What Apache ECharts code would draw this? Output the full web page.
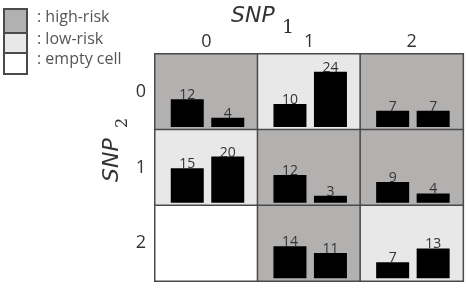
<!DOCTYPE html>
<html>
<head>
<meta charset="utf-8">
<script src="https://cdn.jsdelivr.net/npm/echarts@6/dist/echarts.min.js"></script>
<style>
  html, body { margin: 0; padding: 0; background: #fff; }
  #chart { width: 466px; height: 291px; }
</style>
</head>
<body>
<div id="chart"></div>
<script>
// genotype levels
const snp1Labels = ["0", "1", "2"];
const snp2Labels = ["0", "1", "2"];

// cells by row (SNP2) then column (SNP1); null = empty cell
const firstBar = [
  [12, 10, 7],
  [15, 12, 9],
  [null, 14, 7]
];
const secondBar = [
  [4, 24, 7],
  [20, 3, 4],
  [null, 11, 13]
];
const riskLevel = [
  ["high", "low", "high"],
  ["low", "high", "high"],
  ["empty", "high", "low"]
];

const riskColors = { high: "#b3b0b0", low: "#e8e8e8", empty: "#ffffff" };
const legendItems = [
  { key: "high", text: ": high-risk" },
  { key: "low", text: ": low-risk" },
  { key: "empty", text: ": empty cell" }
];

const chart = echarts.init(document.getElementById("chart"));

const left0 = 155, top0 = 54, cellW = 102.7, cellH = 75.7;
const font = "Open Sans";
const titleFont = "oblique 22px 'DejaVu Sans'";

const grids = [{ left: left0, top: top0, width: cellW * 3, height: cellH * 3 }];
const xAxes = [{
  type: "category", gridIndex: 0, position: "top", data: snp1Labels,
  axisLine: { show: false }, axisTick: { show: false }, splitLine: { show: false },
  axisLabel: { margin: 3, fontSize: 18, color: "#333", fontFamily: font }
}];
const yAxes = [{
  type: "category", gridIndex: 0, inverse: true, data: snp2Labels,
  axisLine: { show: false }, axisTick: { show: false }, splitLine: { show: false },
  axisLabel: { margin: 9, fontSize: 18, color: "#333", fontFamily: font, padding: [8, 0, 0, 0] }
}];

const cells = [];
for (let r = 0; r < 3; r++) {
  for (let c = 0; c < 3; c++) {
    cells.push({
      value: [c, r, 1],
      itemStyle: { color: riskColors[riskLevel[r][c]] }
    });
  }
}

const series = [{
  type: "heatmap",
  xAxisIndex: 0, yAxisIndex: 0, z: 1,
  data: cells,
  itemStyle: { borderColor: "#4a4a4a", borderWidth: 1.5 },
  emphasis: { disabled: true },
  silent: true
}];

for (let r = 0; r < 3; r++) {
  for (let c = 0; c < 3; c++) {
    if (firstBar[r][c] == null) continue;
    const gi = grids.length;
    grids.push({ left: left0 + c * cellW + 12, top: top0 + r * cellH, width: 81, height: cellH });
    xAxes.push({ type: "category", gridIndex: gi, data: ["a", "b"], show: false });
    yAxes.push({ type: "value", gridIndex: gi, min: -1.2, max: 31.7, show: false });
    series.push({
      type: "bar",
      xAxisIndex: gi, yAxisIndex: gi, z: 3,
      barWidth: 33,
      data: [firstBar[r][c], secondBar[r][c]],
      itemStyle: { color: "#000" },
      label: {
        show: true, position: "top", distance: -3,
        fontSize: 14, color: "#333", fontFamily: font
      },
      silent: true
    });
  }
}

const graphics = [];
legendItems.forEach((item, i) => {
  const ys = [8, 32, 52, 73];
  graphics.push({
    type: "rect", left: 3, top: ys[i],
    shape: { width: 23, height: ys[i + 1] - ys[i] },
    style: { fill: riskColors[item.key], stroke: "#4a4a4a", lineWidth: 2 }
  });
  graphics.push({
    type: "text", left: 37, top: (ys[i] + ys[i + 1]) / 2 - 11,
    style: { text: item.text, font: "16px " + font, fill: "#555" }
  });
});

// axis titles
graphics.push({
  type: "text", left: 231, top: 5,
  style: { text: "SNP", font: titleFont, fill: "#333" }
});
graphics.push({
  type: "text", left: 282, top: 19,
  style: { text: "1", font: "19px 'DejaVu Serif'", fill: "#333" }
});
graphics.push({
  type: "group", x: 101, y: 182, rotation: Math.PI / 2,
  children: [
    { type: "text", x: 0, y: 0, style: { text: "SNP", font: titleFont, fill: "#333" } },
    { type: "text", x: 54, y: 14, style: { text: "2", font: "16px 'DejaVu Serif'", fill: "#333" } }
  ]
});

chart.setOption({
  animation: false,
  grid: grids,
  xAxis: xAxes,
  yAxis: yAxes,
  series: series,
  graphic: graphics
});
</script>
</body>
</html>
